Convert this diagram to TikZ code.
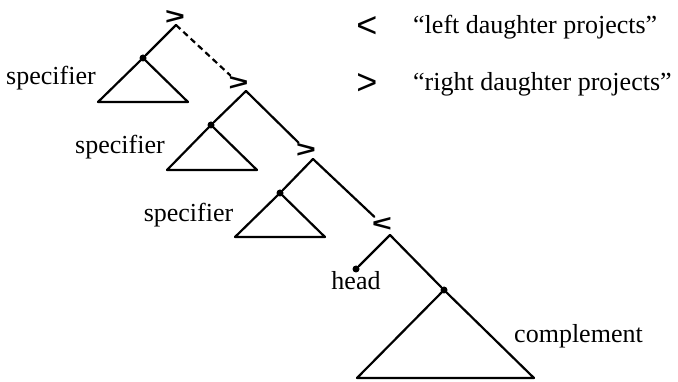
\documentclass[tikz,border=0pt]{standalone}
\usepackage{fontspec}
\setmainfont{Liberation Serif}
\newfontfamily\symfont{Liberation Sans}
\newcommand{\flatsym}[1]{\scalebox{1.3}[0.9]{#1}}
\begin{document}
\begin{tikzpicture}[x=1pt,y=-1pt,
  branch/.style={line width=2.2pt, line cap=round, line join=round},
  dashbranch/.style={branch, line cap=butt, dash pattern=on 6pt off 4pt},
  dot/.style={circle, fill=black, inner sep=0pt, minimum size=7pt},
  lbl/.style={font=\fontsize{26}{30}\selectfont, inner sep=0pt, anchor=base},
  proj/.style={font=\symfont\bfseries\fontsize{26}{26}\selectfont, inner sep=0pt},
  legsym/.style={font=\symfont\fontsize{36}{36}\selectfont, inner sep=0pt},
]
\useasboundingbox (0,0) rectangle (678,382);

% projection symbols
\node[proj] (S1) at (175,17) {\flatsym{>}};
\node[proj] (S2) at (238.5,83) {\flatsym{>}};
\node[proj] (S3) at (306,150) {\flatsym{>}};
\node[proj] (S4) at (382,224) {\flatsym{<}};

% apexes
\coordinate (A1) at (176,25);
\coordinate (A2) at (246,91);
\coordinate (A3) at (313,159);
\coordinate (A4) at (390,235);

% dots
\node[dot] (D1) at (143,58) {};
\node[dot] (D2) at (211,125) {};
\node[dot] (D3) at (280,193) {};
\node[dot] (D4) at (444,290) {};
\node[dot] (H) at (356,269) {};

% triangle corners
\coordinate (T1l) at (98,102);  \coordinate (T1r) at (188,102);
\coordinate (T2l) at (167,170); \coordinate (T2r) at (257,170);
\coordinate (T3l) at (235,237); \coordinate (T3r) at (325,237);
\coordinate (T4l) at (357,378); \coordinate (T4r) at (534,378);

% branches
\draw[branch] (A1) -- (D1);
\draw[dashbranch] (A1) -- (S2);
\draw[branch] (A2) -- (D2);
\draw[branch] (A2) -- (S3);
\draw[branch] (A3) -- (D3);
\draw[branch] (A3) -- (S4);
\draw[branch] (A4) -- (H);
\draw[branch] (A4) -- (D4);

% triangles
\draw[branch] (D1.center) -- (T1l) -- (T1r) -- cycle;
\draw[branch] (D2.center) -- (T2l) -- (T2r) -- cycle;
\draw[branch] (D3.center) -- (T3l) -- (T3r) -- cycle;
\draw[branch] (D4.center) -- (T4l) -- (T4r) -- cycle;

% labels
\node[lbl] (spec1) at (51,85) {specifier};
\node[lbl] (spec2) at (120,154) {specifier};
\node[lbl] (spec3) at (188.5,222) {specifier};
\node[lbl] (head) at (356,290) {head};
\node[lbl] (comp) at (578.5,342) {complement};

% legend
\node[legsym] (L1) at (367,27) {<};
\node[lbl, anchor=base west] (L1t) at (413,34) {“left daughter projects”};
\node[legsym] (L2) at (367,84) {>};
\node[lbl, anchor=base west] (L2t) at (413,91) {“right daughter projects”};
\end{tikzpicture}
\end{document}
